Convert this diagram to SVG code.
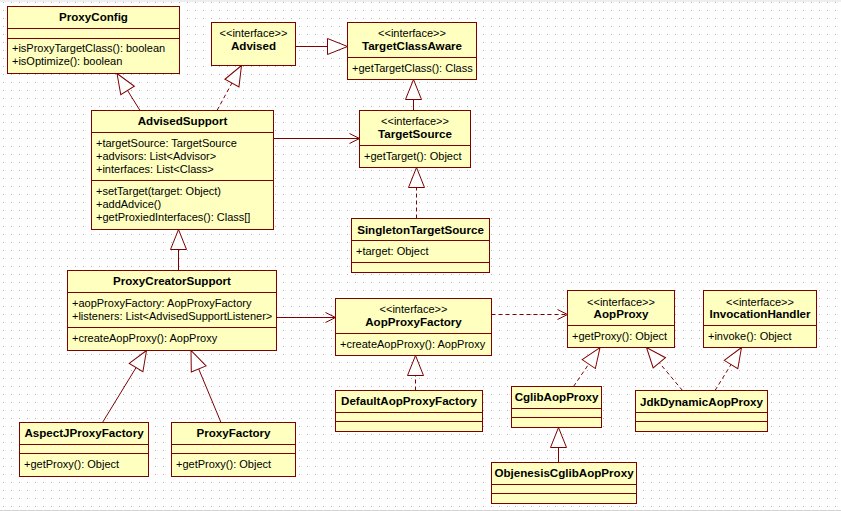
<svg xmlns="http://www.w3.org/2000/svg" width="841" height="511" viewBox="0 0 841 511">
<style>
.box{fill:#ffffc0;stroke:#800000;stroke-width:1}
.div{stroke:#800000;stroke-width:1;fill:none}
text{font-family:"Liberation Sans",Arial,sans-serif;font-size:11px;fill:#000}
.n{font-weight:bold;text-anchor:middle;font-size:11.6px}
.s{text-anchor:middle}
.c{stroke:#800000;stroke-width:1;fill:none}
.d{stroke-dasharray:4,3}
.gen{marker-end:url(#tri)}
.dep{marker-end:url(#open)}
</style>
<defs>
<pattern id="grid" x="0" y="0" width="8" height="8" patternUnits="userSpaceOnUse">
<rect x="3" y="2" width="1" height="1" fill="#b4b4b4"/>
</pattern>
<marker id="tri" viewBox="-1 -1 22 18" refX="20" refY="8" markerWidth="22" markerHeight="18" markerUnits="userSpaceOnUse" orient="auto">
<path d="M0,0 L20,8 L0,16 Z" fill="#fff" stroke="#800000" stroke-width="1" stroke-dasharray="none"/>
</marker>
<marker id="open" viewBox="-1 -1 12 12" refX="10" refY="5" markerWidth="12" markerHeight="12" markerUnits="userSpaceOnUse" orient="auto">
<path d="M0,0 L10,5 L0,10" fill="none" stroke="#800000" stroke-width="1" stroke-dasharray="none"/>
</marker>
</defs>
<rect x="0" y="0" width="841" height="511" fill="#fff"/>
<rect x="0" y="0" width="841" height="511" fill="url(#grid)"/>
<rect x="0" y="0" width="841" height="2" fill="#eeeeee"/>
<rect x="0" y="510" width="841" height="1" fill="#d4d4d4"/>

<g id="connectors">
<line class="c gen" x1="140" y1="110.5" x2="117" y2="73.5"/>
<line class="c d gen" x1="217" y1="110.5" x2="241.5" y2="65.5"/>
<line class="c gen" x1="295.5" y1="46.5" x2="347.5" y2="46.5"/>
<line class="c gen" x1="413.5" y1="110.5" x2="413.5" y2="79.5"/>
<line class="c dep" x1="273.5" y1="138.5" x2="359.5" y2="138.5"/>
<line class="c d gen" x1="416.5" y1="218.5" x2="416.5" y2="167.5"/>
<line class="c gen" x1="178.5" y1="270.5" x2="178.5" y2="229.5"/>
<line class="c gen" x1="102.5" y1="422.5" x2="146.5" y2="350.5"/>
<line class="c gen" x1="221" y1="422.5" x2="191" y2="350.5"/>
<line class="c dep" x1="276.5" y1="317.5" x2="335.5" y2="317.5"/>
<line class="c d gen" x1="415.5" y1="390.5" x2="415.5" y2="355.5"/>
<line class="c d dep" x1="491.5" y1="314.5" x2="567.5" y2="314.5"/>
<line class="c d gen" x1="573.5" y1="386.5" x2="600" y2="347.5"/>
<line class="c d gen" x1="682.5" y1="390.5" x2="646.5" y2="347.5"/>
<line class="c d gen" x1="715" y1="390.5" x2="741.5" y2="347.5"/>
<line class="c gen" x1="558.5" y1="462.5" x2="558.5" y2="427.5"/>
</g>

<g id="ProxyConfig">
<rect class="box" x="7.5" y="6.5" width="172" height="67"/>
<path class="div" d="M7.5,28.5H179.5M7.5,38.5H179.5"/>
<text class="n" x="93.5" y="21">ProxyConfig</text>
<text x="12" y="52">+isProxyTargetClass(): boolean</text>
<text x="12" y="65">+isOptimize(): boolean</text>
</g>

<g id="Advised">
<rect class="box" x="211.5" y="22.5" width="84" height="43"/>
<text class="s" x="253.5" y="37">&lt;&lt;interface&gt;&gt;</text>
<text class="n" x="253.5" y="50">Advised</text>
</g>

<g id="TargetClassAware">
<rect class="box" x="347.5" y="22.5" width="129" height="57"/>
<path class="div" d="M347.5,57.5H476.5"/>
<text class="s" x="412" y="37">&lt;&lt;interface&gt;&gt;</text>
<text class="n" x="412" y="50">TargetClassAware</text>
<text x="352" y="72">+getTargetClass(): Class</text>
</g>

<g id="TargetSource">
<rect class="box" x="359.5" y="110.5" width="111" height="57"/>
<path class="div" d="M359.5,145.5H470.5"/>
<text class="s" x="415" y="125">&lt;&lt;interface&gt;&gt;</text>
<text class="n" x="415" y="138">TargetSource</text>
<text x="364" y="160">+getTarget(): Object</text>
</g>

<g id="AdvisedSupport">
<rect class="box" x="91.5" y="110.5" width="182" height="119"/>
<path class="div" d="M91.5,132.5H273.5M91.5,180.5H273.5"/>
<text class="n" x="182.5" y="125">AdvisedSupport</text>
<text x="96" y="147">+targetSource: TargetSource</text>
<text x="96" y="160">+advisors: List&lt;Advisor&gt;</text>
<text x="96" y="173">+interfaces: List&lt;Class&gt;</text>
<text x="96" y="195">+setTarget(target: Object)</text>
<text x="96" y="208">+addAdvice()</text>
<text x="96" y="221">+getProxiedInterfaces(): Class[]</text>
</g>

<g id="SingletonTargetSource">
<rect class="box" x="351.5" y="218.5" width="138" height="54"/>
<path class="div" d="M351.5,240.5H489.5M351.5,262.5H489.5"/>
<text class="n" x="420.5" y="233.5">SingletonTargetSource</text>
<text x="356" y="255">+target: Object</text>
</g>

<g id="ProxyCreatorSupport">
<rect class="box" x="67.5" y="270.5" width="209" height="80"/>
<path class="div" d="M67.5,292.5H276.5M67.5,327.5H276.5"/>
<text class="n" x="172" y="285">ProxyCreatorSupport</text>
<text x="72" y="307">+aopProxyFactory: AopProxyFactory</text>
<text x="72" y="320">+listeners: List&lt;AdvisedSupportListener&gt;</text>
<text x="72" y="342">+createAopProxy(): AopProxy</text>
</g>

<g id="AopProxyFactory">
<rect class="box" x="335.5" y="298.5" width="156" height="57"/>
<path class="div" d="M335.5,333.5H491.5"/>
<text class="s" x="413.5" y="313">&lt;&lt;interface&gt;&gt;</text>
<text class="n" x="413.5" y="326">AopProxyFactory</text>
<text x="340" y="348">+createAopProxy(): AopProxy</text>
</g>

<g id="DefaultAopProxyFactory">
<rect class="box" x="335.5" y="390.5" width="147" height="41"/>
<path class="div" d="M335.5,412.5H482.5M335.5,421.5H482.5"/>
<text class="n" x="409" y="405">DefaultAopProxyFactory</text>
</g>

<g id="AopProxy">
<rect class="box" x="567.5" y="290.5" width="107" height="57"/>
<path class="div" d="M567.5,325.5H674.5"/>
<text class="s" x="621" y="305.5">&lt;&lt;interface&gt;&gt;</text>
<text class="n" x="621" y="318">AopProxy</text>
<text x="572" y="340">+getProxy(): Object</text>
</g>

<g id="InvocationHandler">
<rect class="box" x="703.5" y="290.5" width="113" height="57"/>
<path class="div" d="M703.5,325.5H816.5"/>
<text class="s" x="760" y="305.5">&lt;&lt;interface&gt;&gt;</text>
<text class="n" x="760" y="318">InvocationHandler</text>
<text x="708" y="340">+invoke(): Object</text>
</g>

<g id="CglibAopProxy">
<rect class="box" x="511.5" y="386.5" width="90" height="41"/>
<path class="div" d="M511.5,408.5H601.5M511.5,417.5H601.5"/>
<text class="n" x="556.5" y="401">CglibAopProxy</text>
</g>

<g id="JdkDynamicAopProxy">
<rect class="box" x="635.5" y="390.5" width="132" height="41"/>
<path class="div" d="M635.5,412.5H767.5M635.5,421.5H767.5"/>
<text class="n" x="701.5" y="405.5">JdkDynamicAopProxy</text>
</g>

<g id="ObjenesisCglibAopProxy">
<rect class="box" x="491.5" y="462.5" width="145" height="41"/>
<path class="div" d="M491.5,484.5H636.5M491.5,493.5H636.5"/>
<text class="n" x="564" y="477">ObjenesisCglibAopProxy</text>
</g>

<g id="AspectJProxyFactory">
<rect class="box" x="19.5" y="422.5" width="129" height="54"/>
<path class="div" d="M19.5,444.5H148.5M19.5,453.5H148.5"/>
<text class="n" x="84" y="437">AspectJProxyFactory</text>
<text x="24" y="468">+getProxy(): Object</text>
</g>

<g id="ProxyFactory">
<rect class="box" x="171.5" y="422.5" width="124" height="54"/>
<path class="div" d="M171.5,444.5H295.5M171.5,453.5H295.5"/>
<text class="n" x="233.5" y="437">ProxyFactory</text>
<text x="176" y="468">+getProxy(): Object</text>
</g>
</svg>
